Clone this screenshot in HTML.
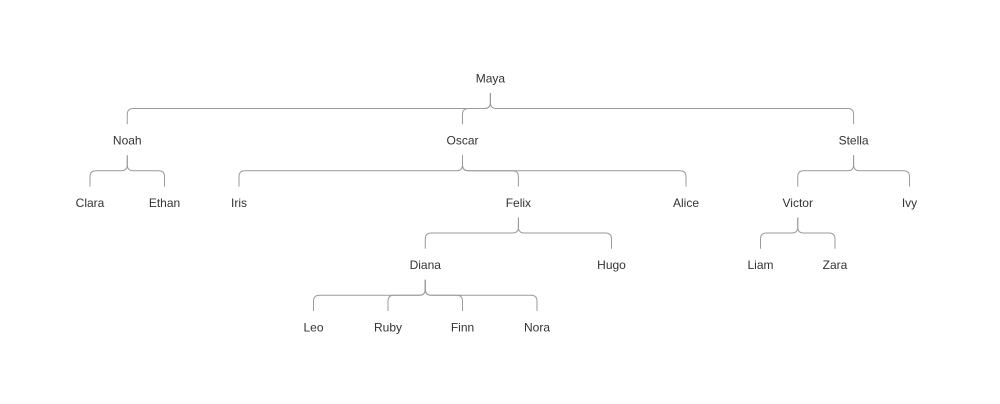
<!DOCTYPE html>
<html>
<head>
<meta charset="utf-8">
<style>
  html, body { margin: 0; padding: 0; background: #fff; }
  body { width: 1000px; height: 404px; overflow: hidden; }
  svg { display: block; }
  .l { fill: none; stroke: #9a9a9a; stroke-width: 1; }
  text { font-family: "Liberation Sans", "DejaVu Sans", sans-serif; font-size: 12px; fill: #333; text-anchor: middle; }
</style>
</head>
<body>
<svg width="1000" height="404" viewBox="0 0 1000 404" xmlns="http://www.w3.org/2000/svg">
  <path class="l" d="M490.4 93 V102.5 Q490.4 108.5 484.4 108.5 H133.25 Q127.25 108.5 127.25 114.5 V124.25"/>
  <path class="l" d="M490.4 93 V102.5 Q490.4 108.5 484.4 108.5 H468.5 Q462.5 108.5 462.5 114.5 V124.25"/>
  <path class="l" d="M490.4 93 V102.5 Q490.4 108.5 496.4 108.5 H847.6 Q853.6 108.5 853.6 114.5 V124.25"/>

  <path class="l" d="M127.25 155.25 V164.75 Q127.25 170.75 121.25 170.75 H96 Q90 170.75 90 176.75 V186.5"/>
  <path class="l" d="M127.25 155.25 V164.75 Q127.25 170.75 133.25 170.75 H158.5 Q164.5 170.75 164.5 176.75 V186.5"/>

  <path class="l" d="M462.5 155.25 V164.75 Q462.5 170.75 456.5 170.75 H245 Q239 170.75 239 176.75 V186.5"/>
  <path class="l" d="M462.5 155.25 V164.75 Q462.5 170.75 468.5 170.75 H512.4 Q518.4 170.75 518.4 176.75 V186.5"/>
  <path class="l" d="M462.5 155.25 V164.75 Q462.5 170.75 468.5 170.75 H680 Q686 170.75 686 176.75 V186.5"/>

  <path class="l" d="M853.6 155.25 V164.75 Q853.6 170.75 847.6 170.75 H803.75 Q797.75 170.75 797.75 176.75 V186.5"/>
  <path class="l" d="M853.6 155.25 V164.75 Q853.6 170.75 859.6 170.75 H903.5 Q909.5 170.75 909.5 176.75 V186.5"/>

  <path class="l" d="M518.4 217.5 V227 Q518.4 233 512.4 233 H431.25 Q425.25 233 425.25 239 V248.75"/>
  <path class="l" d="M518.4 217.5 V227 Q518.4 233 524.4 233 H605.5 Q611.5 233 611.5 239 V248.75"/>

  <path class="l" d="M797.75 217.5 V227 Q797.75 233 791.75 233 H766.5 Q760.5 233 760.5 239 V248.75"/>
  <path class="l" d="M797.75 217.5 V227 Q797.75 233 803.75 233 H829 Q835 233 835 239 V248.75"/>

  <path class="l" d="M425.25 279.75 V289.25 Q425.25 295.25 419.25 295.25 H319.5 Q313.5 295.25 313.5 301.25 V311"/>
  <path class="l" d="M425.25 279.75 V289.25 Q425.25 295.25 419.25 295.25 H394 Q388 295.25 388 301.25 V311"/>
  <path class="l" d="M425.25 279.75 V289.25 Q425.25 295.25 431.25 295.25 H456.5 Q462.5 295.25 462.5 301.25 V311"/>
  <path class="l" d="M425.25 279.75 V289.25 Q425.25 295.25 431.25 295.25 H531 Q537 295.25 537 301.25 V311"/>

  <text x="490.4" y="82.3">Maya</text>

  <text x="127.25" y="144.5">Noah</text>
  <text x="462.5" y="144.5">Oscar</text>
  <text x="853.6" y="144.5">Stella</text>

  <text x="90" y="206.8">Clara</text>
  <text x="164.5" y="206.8">Ethan</text>
  <text x="239" y="206.8">Iris</text>
  <text x="518.4" y="206.8">Felix</text>
  <text x="686" y="206.8">Alice</text>
  <text x="797.75" y="206.8">Victor</text>
  <text x="909.5" y="206.8">Ivy</text>

  <text x="425.25" y="269">Diana</text>
  <text x="611.5" y="269">Hugo</text>
  <text x="760.5" y="269">Liam</text>
  <text x="835" y="269">Zara</text>

  <text x="313.5" y="331.3">Leo</text>
  <text x="388" y="331.3">Ruby</text>
  <text x="462.5" y="331.3">Finn</text>
  <text x="537" y="331.3">Nora</text>
</svg>
</body>
</html>
